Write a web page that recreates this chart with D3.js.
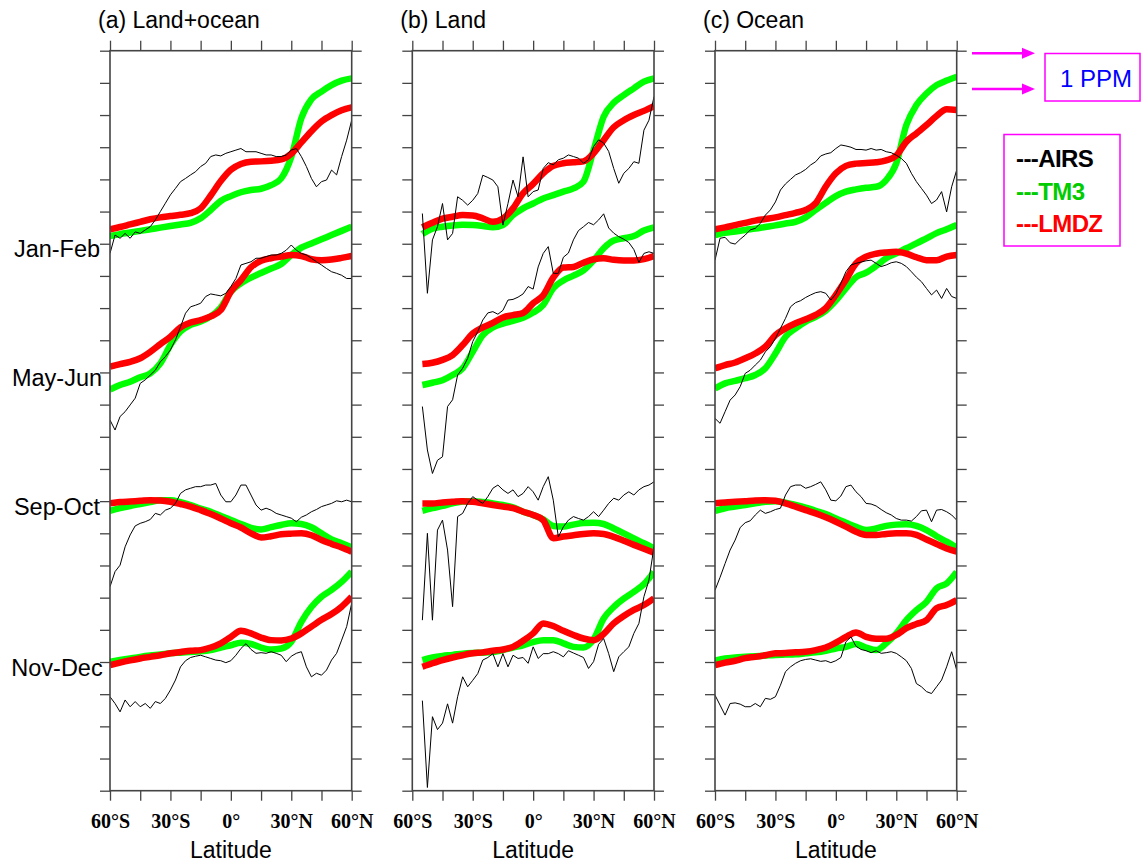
<!DOCTYPE html>
<html>
<head>
<meta charset="utf-8">
<script src="https://cdn.jsdelivr.net/npm/d3@7"></script>
<style>
body { margin: 0; background: #fff; }
svg text { font-family: "Liberation Sans", Arial, sans-serif; }
</style>
</head>
<body>
<div id="chart"></div>
<script>
// latitude grids: models every 5 deg, AIRS every 2.5 deg
var lat5 = [-60, -55, -50, -45, -40, -35, -30, -25, -20, -15, -10, -5, 0, 5, 10, 15, 20, 25, 30, 35, 40, 45, 50, 55, 60];
var lat25 = [-60, -57.5, -55, -52.5, -50, -47.5, -45, -42.5, -40, -37.5, -35, -32.5, -30, -27.5, -25, -22.5, -20, -17.5,
  -15, -12.5, -10, -7.5, -5, -2.5, 0, 2.5, 5, 7.5, 10, 12.5, 15, 17.5, 20, 22.5, 25, 27.5, 30, 32.5, 35, 37.5, 40,
  42.5, 45, 47.5, 50, 52.5, 55, 57.5, 60];

var seasons = ["Jan-Feb", "May-Jun", "Sep-Oct", "Nov-Dec"];
var seasonBase = [17, 13, 9, 4];   // ppm offset of each season on the stacked axis
var xTicks = [-60, -45, -30, -15, 0, 15, 30, 45, 60];
var xLabels = {"-60": "60°S", "-30": "30°S", "0": "0°", "30": "30°N", "60": "60°N"};

// (a) Land+ocean, anomalies in ppm
var airs_a_JF = [-0.30, 0.27, 0.17, 0.32, 0.17, 0.37, 0.32, 0.43, 0.53, 0.74, 1.00, 1.26, 1.52, 1.72, 1.93, 2.03, 2.14, 2.24, 2.40, 2.50, 2.71, 2.76, 2.73, 2.81, 2.86, 2.91, 2.96, 2.86, 2.86, 2.86, 2.81, 2.76, 2.76, 2.71, 2.71, 2.76, 2.91, 2.96, 2.71, 2.40, 2.03, 1.77, 1.93, 1.98, 2.29, 2.14, 2.71, 3.22, 3.84];
var tm3_a_JF = [0.24, 0.30, 0.35, 0.40, 0.45, 0.50, 0.55, 0.60, 0.65, 0.79, 1.05, 1.33, 1.48, 1.60, 1.67, 1.71, 1.82, 2.03, 2.70, 3.90, 4.49, 4.73, 4.93, 5.07, 5.14];
var lmdz_a_JF = [0.45, 0.52, 0.60, 0.68, 0.76, 0.82, 0.86, 0.90, 0.95, 1.10, 1.50, 1.95, 2.30, 2.48, 2.55, 2.56, 2.58, 2.62, 2.80, 3.15, 3.50, 3.80, 4.00, 4.15, 4.24];
var airs_a_MJ = [-1.48, -1.79, -1.37, -1.22, -1.01, -0.80, -0.34, -0.23, -0.08, 0.07, 0.33, 0.49, 0.70, 1.01, 1.42, 1.84, 2.04, 2.09, 2.15, 2.36, 2.44, 2.41, 2.38, 2.46, 2.67, 2.92, 3.34, 3.39, 3.44, 3.55, 3.55, 3.60, 3.65, 3.65, 3.70, 3.80, 3.96, 3.80, 3.70, 3.65, 3.55, 3.44, 3.34, 3.23, 3.13, 3.08, 3.02, 2.92, 2.92];
var tm3_a_MJ = [-0.53, -0.39, -0.29, -0.15, -0.03, 0.28, 0.85, 1.27, 1.48, 1.58, 1.74, 2.02, 2.51, 2.77, 2.95, 3.09, 3.23, 3.37, 3.65, 3.88, 4.01, 4.14, 4.27, 4.40, 4.53];
var lmdz_a_MJ = [0.18, 0.26, 0.33, 0.44, 0.64, 0.88, 1.11, 1.40, 1.55, 1.63, 1.74, 1.94, 2.51, 2.87, 3.27, 3.47, 3.55, 3.60, 3.65, 3.62, 3.52, 3.49, 3.51, 3.56, 3.62];
var airs_a_SO = [-2.66, -2.19, -1.99, -1.42, -1.05, -0.77, -0.69, -0.64, -0.57, -0.38, -0.43, -0.28, -0.22, -0.07, 0.24, 0.35, 0.40, 0.45, 0.45, 0.50, 0.50, 0.55, 0.19, -0.02, -0.02, 0.19, 0.50, 0.50, 0.19, -0.12, -0.28, -0.22, -0.28, -0.38, -0.43, -0.48, -0.53, -0.64, -0.50, -0.43, -0.33, -0.26, -0.17, -0.12, -0.07, 0.01, -0.02, 0.03, -0.02];
var tm3_a_SO = [-0.30, -0.22, -0.15, -0.09, -0.03, 0.03, 0.03, -0.03, -0.12, -0.23, -0.33, -0.46, -0.59, -0.71, -0.83, -0.88, -0.81, -0.74, -0.69, -0.71, -0.81, -1.00, -1.19, -1.31, -1.44];
var lmdz_a_SO = [-0.07, -0.03, -0.01, 0.01, 0.03, 0.02, -0.02, -0.09, -0.17, -0.28, -0.40, -0.54, -0.69, -0.82, -1.00, -1.13, -1.09, -1.03, -1.01, -1.00, -1.06, -1.21, -1.33, -1.44, -1.57];
var airs_a_ND = [-1.08, -1.29, -1.55, -1.18, -1.39, -1.23, -1.39, -1.29, -1.44, -1.23, -1.29, -1.13, -0.87, -0.56, -0.15, 0.04, 0.14, 0.18, 0.21, 0.16, 0.11, 0.06, 0.04, -0.02, 0.04, 0.21, 0.42, 0.57, 0.39, 0.27, 0.29, 0.27, 0.32, 0.27, 0.21, 0.01, 0.18, 0.27, 0.32, -0.15, -0.46, -0.35, -0.41, -0.25, 0.06, 0.27, 0.68, 1.10, 1.82];
var tm3_a_ND = [0.01, 0.06, 0.11, 0.16, 0.20, 0.23, 0.27, 0.29, 0.31, 0.33, 0.37, 0.45, 0.52, 0.60, 0.56, 0.45, 0.39, 0.42, 0.63, 1.25, 1.71, 2.03, 2.24, 2.49, 2.81];
var lmdz_a_ND = [-0.10, -0.02, 0.05, 0.11, 0.16, 0.21, 0.27, 0.31, 0.35, 0.37, 0.45, 0.58, 0.78, 0.97, 0.89, 0.76, 0.68, 0.67, 0.73, 0.89, 1.10, 1.31, 1.49, 1.72, 2.03];

// (b) Land (no land south of ~55S)
var airs_b_JF = [null, null, 0.94, -1.54, 0.12, 0.53, 1.25, 0.12, 0.32, 1.46, 1.35, 1.20, 1.35, 1.56, 2.13, 2.06, 1.98, 1.77, 0.58, 1.25, 1.98, 1.46, 2.70, 1.46, 1.62, 1.67, 2.34, 2.52, 2.45, 2.61, 2.66, 2.76, 2.71, 2.66, 2.50, 2.61, 3.02, 3.23, 3.13, 2.87, 2.34, 1.88, 2.19, 2.34, 2.55, 2.50, 3.53, 3.84, 4.57];
var tm3_b_JF = [null, 0.30, 0.47, 0.53, 0.57, 0.59, 0.58, 0.55, 0.51, 0.58, 0.89, 1.10, 1.25, 1.41, 1.51, 1.62, 1.72, 1.93, 2.91, 3.95, 4.38, 4.62, 4.83, 5.04, 5.14];
var lmdz_b_JF = [null, 0.51, 0.65, 0.78, 0.84, 0.89, 0.88, 0.79, 0.68, 0.79, 1.10, 1.57, 1.86, 2.19, 2.42, 2.50, 2.53, 2.56, 2.81, 3.22, 3.62, 3.84, 4.00, 4.13, 4.28];
var airs_b_MJ = [null, null, -1.06, -2.41, -3.14, -2.73, -2.62, -1.06, -0.85, -0.08, 0.13, 0.44, 0.96, 1.27, 1.63, 1.85, 1.89, 1.81, 1.93, 2.25, 2.27, 2.34, 2.44, 2.67, 2.59, 3.28, 3.70, 3.91, 3.08, 3.08, 3.58, 3.71, 4.12, 4.41, 4.53, 4.66, 4.59, 4.74, 4.93, 4.49, 4.33, 4.22, 4.14, 4.04, 3.82, 3.42, 3.70, 3.75, 3.70];
var tm3_b_MJ = [null, -0.39, -0.32, -0.24, -0.08, 0.13, 0.64, 1.16, 1.40, 1.52, 1.60, 1.70, 1.86, 2.10, 2.62, 2.86, 3.01, 3.17, 3.48, 3.86, 4.10, 4.17, 4.24, 4.41, 4.51];
var lmdz_b_MJ = [null, 0.26, 0.30, 0.39, 0.54, 0.85, 1.21, 1.40, 1.54, 1.71, 1.78, 1.85, 2.15, 2.40, 2.95, 3.26, 3.28, 3.41, 3.52, 3.55, 3.50, 3.48, 3.48, 3.52, 3.62];
var airs_b_SO = [null, null, -3.70, -1.00, -3.70, -0.90, -0.59, -1.52, -3.28, -0.48, -0.38, -0.07, 0.14, 0.03, -0.07, 0.14, 0.40, 0.50, 0.35, 0.24, 0.35, 0.14, 0.24, 0.45, 0.29, 0.03, 0.45, 0.76, 0.03, -1.11, -0.80, -0.59, -0.48, -0.54, -0.59, -0.48, -0.33, -0.48, -0.28, -0.07, 0.09, 0.03, 0.19, 0.29, 0.19, 0.35, 0.45, 0.50, 0.60];
var tm3_b_SO = [null, -0.30, -0.22, -0.15, -0.07, -0.01, 0.00, -0.03, -0.07, -0.12, -0.19, -0.33, -0.43, -0.57, -0.77, -0.79, -0.73, -0.68, -0.67, -0.71, -0.85, -1.00, -1.16, -1.31, -1.47];
var lmdz_b_SO = [null, -0.07, -0.07, -0.04, -0.02, 0.00, -0.02, -0.07, -0.12, -0.17, -0.22, -0.33, -0.43, -0.59, -1.15, -1.10, -1.06, -1.02, -1.00, -1.02, -1.11, -1.23, -1.36, -1.48, -1.60];
var airs_b_ND = [null, null, -1.20, -3.90, -1.70, -2.10, -1.90, -1.30, -1.90, -1.08, -0.46, -0.77, -0.57, -0.36, 0.06, 0.14, 0.26, -0.15, 0.26, -0.15, 0.21, 0.11, 0.14, -0.04, 0.47, 0.11, 0.26, 0.26, 0.32, 0.26, 0.16, 0.35, 0.28, 0.21, 0.14, -0.20, 0.01, 0.55, 0.73, 0.26, -0.30, 0.16, 0.32, 0.47, 0.89, 1.20, 2.03, 2.55, 3.58];
var tm3_b_ND = [null, 0.06, 0.14, 0.19, 0.22, 0.26, 0.28, 0.29, 0.31, 0.37, 0.45, 0.52, 0.62, 0.68, 0.68, 0.58, 0.47, 0.45, 0.70, 1.35, 1.71, 1.97, 2.18, 2.42, 2.80];
var lmdz_b_ND = [null, -0.15, -0.04, 0.06, 0.14, 0.21, 0.27, 0.30, 0.35, 0.39, 0.47, 0.66, 0.89, 1.20, 1.12, 0.97, 0.84, 0.73, 0.68, 0.87, 1.20, 1.43, 1.62, 1.77, 1.98];

// (c) Ocean
var airs_c_JF = [-0.51, 0.17, 0.20, 0.03, -0.01, 0.14, 0.27, 0.43, 0.48, 0.63, 0.89, 1.05, 1.30, 1.67, 1.86, 2.00, 2.14, 2.21, 2.31, 2.45, 2.55, 2.73, 2.79, 2.83, 2.96, 3.07, 3.04, 3.00, 2.93, 2.93, 2.91, 2.96, 2.91, 2.93, 2.86, 2.83, 2.75, 2.65, 2.50, 2.19, 1.93, 1.72, 1.51, 1.25, 1.36, 1.62, 0.99, 1.77, 2.29];
var tm3_c_JF = [0.27, 0.34, 0.38, 0.43, 0.47, 0.52, 0.57, 0.63, 0.68, 0.82, 1.05, 1.27, 1.48, 1.62, 1.69, 1.74, 1.77, 1.98, 2.50, 3.69, 4.31, 4.67, 4.93, 5.07, 5.19];
var lmdz_c_JF = [0.45, 0.51, 0.58, 0.65, 0.72, 0.77, 0.82, 0.89, 0.96, 1.05, 1.26, 1.78, 2.19, 2.42, 2.49, 2.51, 2.53, 2.59, 2.74, 3.17, 3.43, 3.69, 3.97, 4.18, 4.16];
var airs_c_MJ = [-1.43, -1.58, -1.22, -0.86, -0.70, -0.44, -0.03, 0.07, 0.23, 0.38, 0.64, 0.80, 1.06, 1.37, 1.68, 2.04, 2.17, 2.23, 2.33, 2.41, 2.48, 2.51, 2.46, 2.25, 2.44, 2.77, 3.13, 3.34, 3.39, 3.43, 3.47, 3.49, 3.39, 3.29, 3.34, 3.41, 3.44, 3.39, 3.29, 3.13, 2.96, 2.82, 2.61, 2.41, 2.56, 2.30, 2.61, 2.36, 2.30];
var tm3_c_MJ = [-0.50, -0.34, -0.26, -0.18, -0.08, 0.13, 0.59, 1.11, 1.37, 1.58, 1.73, 1.92, 2.23, 2.61, 2.96, 3.10, 3.31, 3.55, 3.70, 3.86, 4.01, 4.17, 4.33, 4.45, 4.58];
var lmdz_c_MJ = [0.13, 0.23, 0.31, 0.44, 0.59, 0.80, 1.16, 1.37, 1.53, 1.65, 1.79, 2.00, 2.41, 2.88, 3.39, 3.60, 3.69, 3.73, 3.75, 3.69, 3.58, 3.49, 3.49, 3.60, 3.65];
var airs_c_SO = [-2.77, -2.37, -1.94, -1.52, -1.21, -0.82, -0.67, -0.61, -0.43, -0.28, -0.38, -0.33, -0.26, -0.22, 0.19, 0.45, 0.50, 0.50, 0.40, 0.45, 0.52, 0.60, 0.35, 0.03, 0.01, 0.16, 0.45, 0.50, 0.29, 0.14, -0.07, -0.09, -0.15, -0.26, -0.36, -0.43, -0.54, -0.59, -0.59, -0.62, -0.48, -0.30, -0.28, -0.64, -0.28, -0.26, -0.33, -0.43, -0.59];
var tm3_c_SO = [-0.30, -0.22, -0.17, -0.12, -0.07, -0.02, 0.00, -0.05, -0.12, -0.20, -0.30, -0.40, -0.54, -0.67, -0.80, -0.90, -0.85, -0.77, -0.73, -0.72, -0.77, -0.90, -1.09, -1.26, -1.44];
var lmdz_c_SO = [-0.07, -0.04, -0.02, 0.00, 0.02, 0.03, 0.01, -0.07, -0.17, -0.28, -0.38, -0.50, -0.64, -0.79, -0.95, -1.05, -1.05, -1.02, -1.00, -1.00, -1.05, -1.19, -1.33, -1.47, -1.57];
var airs_c_ND = [-1.03, -1.34, -1.65, -1.29, -1.27, -1.31, -1.39, -1.39, -1.29, -1.39, -1.13, -1.16, -1.08, -0.72, -0.30, -0.15, -0.04, 0.04, 0.08, 0.10, 0.06, 0.02, 0.04, -0.02, 0.04, 0.14, 0.63, 0.78, 0.49, 0.39, 0.35, 0.29, 0.35, 0.27, 0.29, 0.32, 0.27, 0.16, 0.04, -0.20, -0.67, -0.77, -0.92, -0.98, -0.77, -0.56, -0.15, 0.32, -0.25];
var tm3_c_ND = [0.04, 0.11, 0.14, 0.16, 0.18, 0.20, 0.22, 0.23, 0.24, 0.27, 0.30, 0.35, 0.42, 0.47, 0.56, 0.45, 0.37, 0.58, 0.89, 1.30, 1.61, 1.87, 2.29, 2.44, 2.80];
var lmdz_c_ND = [-0.10, -0.02, 0.04, 0.12, 0.16, 0.21, 0.27, 0.28, 0.30, 0.32, 0.37, 0.45, 0.60, 0.78, 0.92, 0.78, 0.72, 0.72, 0.84, 1.05, 1.18, 1.30, 1.67, 1.77, 1.92];

var panels = [
  {left: 110, title: "(a) Land+ocean",
   airs: [airs_a_JF, airs_a_MJ, airs_a_SO, airs_a_ND],
   tm3: [tm3_a_JF, tm3_a_MJ, tm3_a_SO, tm3_a_ND],
   lmdz: [lmdz_a_JF, lmdz_a_MJ, lmdz_a_SO, lmdz_a_ND]},
  {left: 412.3, title: "(b) Land",
   airs: [airs_b_JF, airs_b_MJ, airs_b_SO, airs_b_ND],
   tm3: [tm3_b_JF, tm3_b_MJ, tm3_b_SO, tm3_b_ND],
   lmdz: [lmdz_b_JF, lmdz_b_MJ, lmdz_b_SO, lmdz_b_ND]},
  {left: 715, title: "(c) Ocean",
   airs: [airs_c_JF, airs_c_MJ, airs_c_SO, airs_c_ND],
   tm3: [tm3_c_JF, tm3_c_MJ, tm3_c_SO, tm3_c_ND],
   lmdz: [lmdz_c_JF, lmdz_c_MJ, lmdz_c_SO, lmdz_c_ND]}
];

var green = "#00ff00", red = "#ff0000", magenta = "#ff00ff", axisColor = "#444";

var svg = d3.select("#chart")
  .append("svg")
    .attr("width", 1142)
    .attr("height", 865);

var panelW = 241.7;
var y = d3.scaleLinear().domain([0, 23]).range([790.7, 50.7]);
var x = d3.scaleLinear().domain([-60, 60]).range([0, panelW]);
var yTicks = d3.range(0, 24);

function styleAxis(g) {
  g.select(".domain").remove();
  g.selectAll(".tick line").attr("stroke", axisColor).attr("stroke-width", 1.3);
}

panels.forEach(function(p, i) {
  var g = svg.append("g").attr("transform", "translate(" + p.left + ",0)");

  g.append("clipPath").attr("id", "clip" + i)
    .append("rect")
      .attr("x", 0).attr("y", y(23))
      .attr("width", panelW).attr("height", y(0) - y(23));

  var plot = g.append("g").attr("clip-path", "url(#clip" + i + ")");

  seasonBase.forEach(function(base, s) {
    var line = d3.line()
      .defined(function(d) { return d[1] != null; })
      .x(function(d) { return x(d[0]); })
      .y(function(d) { return y(base + d[1]); });
    var smooth = d3.line()
      .defined(function(d) { return d[1] != null; })
      .curve(d3.curveMonotoneX)
      .x(function(d) { return x(d[0]); })
      .y(function(d) { return y(base + d[1]); });

    plot.append("path")
      .datum(d3.zip(lat5, p.tm3[s]))
      .attr("fill", "none").attr("stroke", green)
      .attr("stroke-width", 6.5).attr("stroke-linejoin", "round")
      .attr("d", smooth);
    plot.append("path")
      .datum(d3.zip(lat5, p.lmdz[s]))
      .attr("fill", "none").attr("stroke", red)
      .attr("stroke-width", 6.5).attr("stroke-linejoin", "round")
      .attr("d", smooth);
    plot.append("path")
      .datum(d3.zip(lat25, p.airs[s]))
      .attr("fill", "none").attr("stroke", "#000")
      .attr("stroke-width", 1)
      .attr("d", line);
  });

  // ticks on all four sides, pointing outward
  g.append("g").call(d3.axisLeft(y).tickValues(yTicks).tickSize(10).tickFormat("")).call(styleAxis);
  g.append("g").attr("transform", "translate(" + panelW + ",0)")
    .call(d3.axisRight(y).tickValues(yTicks).tickSize(10).tickFormat("")).call(styleAxis);
  g.append("g").attr("transform", "translate(0," + y(23) + ")")
    .call(d3.axisTop(x).tickValues(xTicks).tickSize(10).tickFormat("")).call(styleAxis);
  var bottom = g.append("g").attr("transform", "translate(0," + y(0) + ")")
    .call(d3.axisBottom(x).tickValues(xTicks).tickSize(10).tickPadding(13)
      .tickFormat(function(d) { return xLabels[d] || ""; }))
    .call(styleAxis);
  bottom.selectAll(".tick text")
    .attr("fill", "#000")
    .style("font-family", "'Liberation Serif', 'Times New Roman', serif")
    .style("font-weight", "bold")
    .style("font-size", "20px");

  g.append("rect")
    .attr("x", 0).attr("y", y(23))
    .attr("width", panelW).attr("height", y(0) - y(23))
    .attr("fill", "none").attr("stroke", axisColor).attr("stroke-width", 1.6);

  g.append("text")
    .attr("x", -12).attr("y", 28)
    .style("font-size", "23px")
    .text(p.title);

  g.append("text")
    .attr("x", panelW / 2).attr("y", 858)
    .attr("text-anchor", "middle")
    .style("font-size", "23px")
    .text("Latitude");
});

// season labels on the left
svg.selectAll(".season")
  .data(seasons)
  .enter()
  .append("text")
    .attr("class", "season")
    .attr("x", 57)
    .attr("y", function(d, i) { return y(seasonBase[i]) + 13.5; })
    .attr("text-anchor", "middle")
    .style("font-size", "23.5px")
    .text(function(d) { return d; });

// 1 PPM scale marker
[53.3, 89].forEach(function(ay) {
  svg.append("line")
    .attr("x1", 972).attr("x2", 1024).attr("y1", ay).attr("y2", ay)
    .attr("stroke", magenta).attr("stroke-width", 2.5);
  svg.append("path")
    .attr("d", "M1022," + (ay - 5.5) + "L1035," + ay + "L1022," + (ay + 5.5) + "Z")
    .attr("fill", magenta);
});
svg.append("rect")
  .attr("x", 1045).attr("y", 53.5).attr("width", 95).attr("height", 47.5)
  .attr("fill", "none").attr("stroke", magenta).attr("stroke-width", 1.5);
svg.append("text")
  .attr("x", 1096).attr("y", 86.5)
  .attr("text-anchor", "middle")
  .attr("fill", "#0000ff")
  .style("font-size", "24px")
  .text("1 PPM");

// legend
var legendItems = [["---AIRS", "#000"], ["---TM3", "#00cc00"], ["---LMDZ", red]];
svg.append("rect")
  .attr("x", 1004).attr("y", 134.5).attr("width", 116).attr("height", 111.5)
  .attr("fill", "none").attr("stroke", magenta).attr("stroke-width", 1.5);
svg.selectAll(".legend")
  .data(legendItems)
  .enter()
  .append("text")
    .attr("class", "legend")
    .attr("x", 1016)
    .attr("y", function(d, i) { return 167 + i * 32.5; })
    .attr("fill", function(d) { return d[1]; })
    .style("font-size", "24px")
    .style("font-weight", "bold")
    .style("letter-spacing", "-0.6px")
    .text(function(d) { return d[0]; });
</script>
</body>
</html>
